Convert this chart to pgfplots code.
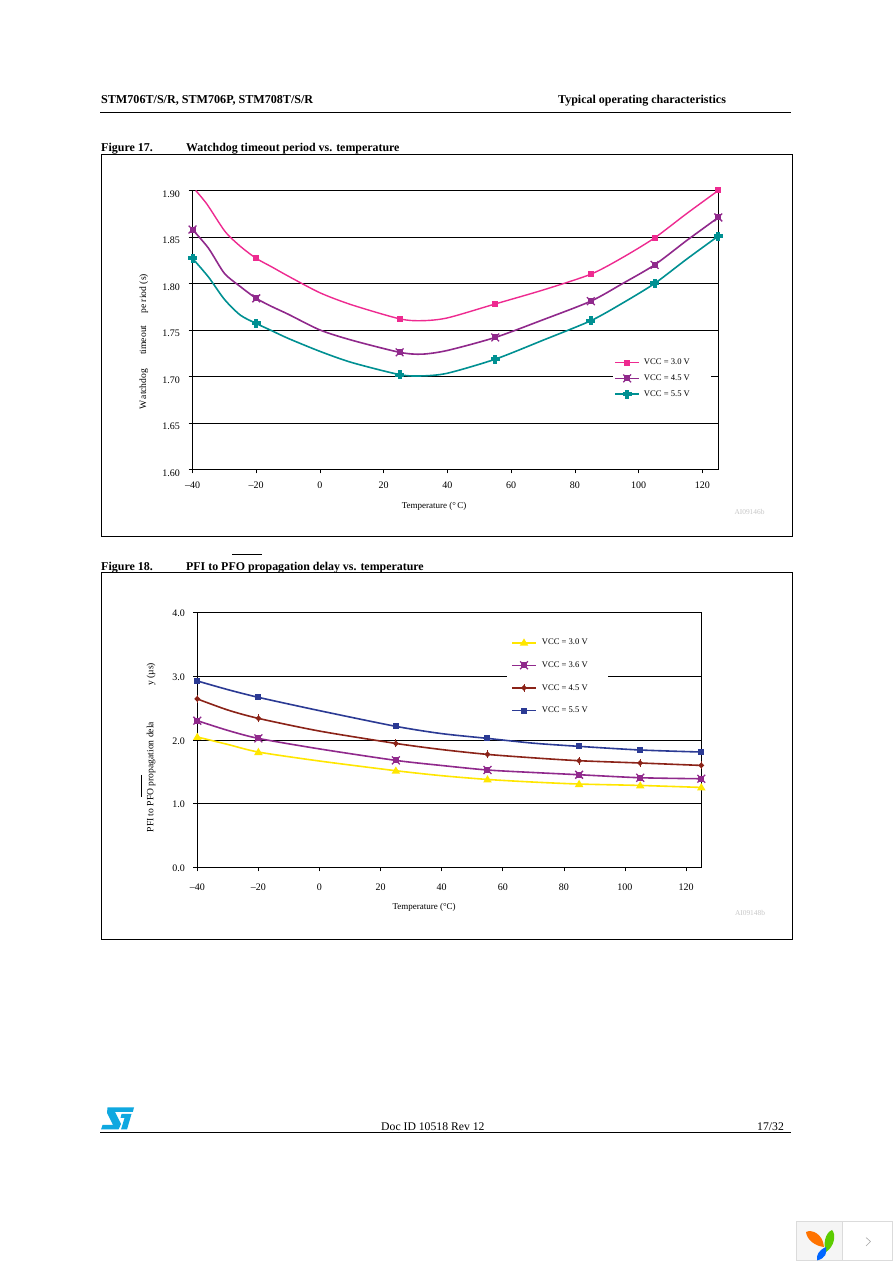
\documentclass[border=0pt]{standalone}
\usepackage{pgfplots}
\pgfplotsset{compat=1.18}
\usepackage{fontspec}
\setmainfont{Liberation Serif}
\newcommand{\fs}[1]{\fontsize{#1}{#1}\selectfont}
\definecolor{cpink}{HTML}{EE2A90}
\definecolor{cmag}{HTML}{90298C}
\definecolor{cteal}{HTML}{009092}
\definecolor{cyel}{HTML}{FFE600}
\definecolor{cbrown}{HTML}{8B2318}
\definecolor{cblue}{HTML}{2B3A94}
\definecolor{stblue}{HTML}{0FA8E0}
\pgfdeclareplotmark{psq}{\pgfpathrectangle{\pgfpoint{-3pt}{-3pt}}{\pgfpoint{6pt}{6pt}}\pgfusepathqfill}
\pgfdeclareplotmark{psx}{%
 \pgfpathrectangle{\pgfpoint{-3pt}{-3pt}}{\pgfpoint{6pt}{6pt}}\pgfusepathqfill
 \pgfsetlinewidth{1.3pt}%
 \pgfpathmoveto{\pgfpoint{-3.9pt}{-3.9pt}}\pgfpathlineto{\pgfpoint{3.9pt}{3.9pt}}%
 \pgfpathmoveto{\pgfpoint{-3.9pt}{3.9pt}}\pgfpathlineto{\pgfpoint{3.9pt}{-3.9pt}}\pgfusepathqstroke}
\pgfdeclareplotmark{pplus}{%
 \pgfpathrectangle{\pgfpoint{-4.5pt}{-2pt}}{\pgfpoint{9pt}{4pt}}\pgfusepathqfill
 \pgfpathrectangle{\pgfpoint{-2pt}{-4.5pt}}{\pgfpoint{4pt}{9pt}}\pgfusepathqfill}
\pgfdeclareplotmark{pdia}{%
 \pgfpathmoveto{\pgfpoint{-3pt}{0pt}}\pgfpathlineto{\pgfpoint{0pt}{3pt}}\pgfpathlineto{\pgfpoint{3pt}{0pt}}\pgfpathlineto{\pgfpoint{0pt}{-3pt}}\pgfpathclose\pgfusepathqfill
 \pgfsetlinewidth{0.8pt}\pgfpathmoveto{\pgfpoint{0pt}{-4pt}}\pgfpathlineto{\pgfpoint{0pt}{4pt}}\pgfusepathqstroke}
\pgfdeclareplotmark{ptri}{%
 \pgfpathmoveto{\pgfpoint{-4.3pt}{-3pt}}\pgfpathlineto{\pgfpoint{0pt}{4.3pt}}\pgfpathlineto{\pgfpoint{4.3pt}{-3pt}}\pgfpathclose\pgfusepathqfill}
\pgfplotsset{
 page axis/.style={
  scale only axis, clip=false, axis line style={black,line width=0.7pt},
  xmin=-40,xmax=125,
  xtick={-40,-20,0,20,40,60,80,100,120},
  xticklabels={--40,--20,0,20,40,60,80,100,120},
  xtick pos=bottom, ytick pos=left, tick align=outside,
  major tick length=4pt, tick style={black,line width=0.6pt},
  ymajorgrids, grid style={black,line width=0.7pt},
  ticklabel style={font=\fs{10}},
  label style={font=\fs{9.6}},
  legend cell align=left,
  legend image code/.code={\draw[##1,mark indices={2}] plot coordinates {(0pt,0pt) (12pt,0pt) (24pt,0pt)};},
 },
 ser/.style={color=#1,line width=1.6pt,smooth,tension=0.45,line join=round,mark options={solid}},
}
\begin{document}
\begin{tikzpicture}
\path[use as bounding box,fill=white] (0pt,0pt) rectangle (892pt,1263pt);
\begin{scope}[x=1pt,y=-1pt,yshift=1263pt]
 % header
 \node[anchor=base west,inner sep=0,font=\fs{12.1}\bfseries] at (101,104) {STM706T/S/R, STM706P, STM708T/S/R};
 \node[anchor=base west,inner sep=0,font=\fs{12}\bfseries] at (558,104) {Typical operating characteristics};
 \draw[black,line width=0.9pt] (100,112.3) -- (791,112.3);
 % figure titles and frames
 \node[anchor=base west,inner sep=0,font=\fs{12}\bfseries] at (101,151.5) {Figure 17.};
 \node[anchor=base west,inner sep=0,font=\fs{11.9}\bfseries] at (186,151.5) {Watchdog timeout period vs. temperature};
 \draw[black,line width=0.8pt] (101,154.4) rectangle (792.5,536.3);
 \node[anchor=base west,inner sep=0,font=\fs{12}\bfseries] at (101,570.5) {Figure 18.};
 \node[anchor=base west,inner sep=0,font=\fs{11.9}\bfseries] at (186,570.5) {PFI to PFO propagation delay vs. temperature};
 \draw[black,line width=0.7pt] (232,554.3) -- (262,554.3);
 \draw[black,line width=0.8pt] (101,572.4) rectangle (792.5,939.3);
 % watermarks
 \node[inner sep=0,font=\fs{7.4},text=black!22] at (749.5,512) {AI09146b};
 \node[inner sep=0,font=\fs{7.4},text=black!22] at (750,913) {AI09148b};
 % footer
 \node[anchor=base west,inner sep=0,font=\fs{11.7}] at (381,1130.5) {Doc ID 10518 Rev 12};
 \node[anchor=base west,inner sep=0,font=\fs{11.7}] at (757,1130.5) {17/32};
 \draw[black,line width=0.9pt] (100,1132.5) -- (791,1132.5);
 % logo
 \fill[stblue] (107.5,1107.5) -- (134,1107.5) -- (132.8,1112) -- (115,1112) -- (121,1124) -- (118.5,1129.5) -- (101,1129.5) -- (102.5,1125) -- (113,1125) -- (107,1113) -- cycle;
 \fill[stblue] (121.5,1114) -- (131.5,1114) -- (127,1129.5) -- (121,1129.5) -- (124.5,1118) -- (120.5,1118) -- cycle;
 % page widget
 \draw[black!14,fill=black!4,line width=0.7pt] (796.5,1221) rectangle (842.3,1260.7);
 \draw[black!14,fill=white,line width=0.7pt] (842.3,1221) rectangle (892,1260.7);
 \fill[orange!90!red] (806,1232) .. controls (812,1229) and (823,1234) .. (824,1247) .. controls (815,1246) and (807,1240) .. (806,1232) -- cycle;
 \fill[green!55!yellow!80!black] (832,1230) .. controls (836,1234) and (835,1246) .. (826,1252) .. controls (823,1244) and (825,1233) .. (832,1230) -- cycle;
 \fill[blue!60!cyan] (826,1247) .. controls (827,1253) and (826,1258) .. (817,1260.5) .. controls (816,1255) and (819,1250) .. (826,1247) -- cycle;
 \draw[black!35,line width=0.6pt] (866,1237.5) -- (870.5,1241.5) -- (866,1246);
\end{scope}

% ---- Figure 17
\begin{axis}[page axis, at={(192.5pt,793.5pt)}, anchor=south west,
 width=525.8pt, height=279pt,
 ymin=1.60,ymax=1.90,
 ytick={1.60,1.65,1.70,1.75,1.80,1.85,1.90},
 yticklabels={1.60,1.65,1.70,1.75,1.80,1.85,1.90},
 x tick label style={yshift=-4.5pt},
 y tick label style={yshift=-3.4pt,xshift=-5pt},
 xlabel={Temperature (\textdegree\,C)},
 xlabel style={at={(axis description cs:0.4595,-0.131)},anchor=center,font=\fs{9}},
 ylabel={W\,atchdog\hspace{14pt}timeout\hspace{12pt}pe riod (s)},
 ylabel style={at={(axis description cs:-0.0925,0.457)},anchor=center,rotate=0},
 legend style={at={(axis description cs:0.7997,0.408)},anchor=north west,draw=none,fill=white,
  font=\fs{8.6},inner sep=1.2pt,row sep=4.5pt},
]
\addplot[ser=cpink,line width=1.4pt,mark=psq,mark indices={5,10,13,15,17,19}] coordinates {
 (-39,1.900) (-35.4,1.885) (-29.8,1.856) (-25,1.840) (-20,1.827) (-15,1.8176) (-10,1.808) (0,1.790) (10,1.777) (25,1.762) (32,1.760) (40,1.763) (55,1.778) (70,1.793) (85,1.810) (95,1.828) (105,1.849) (115,1.875) (125,1.900)};
\addlegendentry{\hspace{2pt}VCC = 3.0 V\rule{18pt}{0pt}}
\addplot[ser=cmag,mark=psx,mark indices={1,5,10,13,15,17,19}] coordinates {
 (-40,1.858) (-35,1.838) (-30,1.811) (-25,1.7967) (-20,1.784) (-15,1.775) (-10,1.767) (0,1.750) (10,1.739) (25,1.726) (32,1.724) (40,1.728) (55,1.742) (70,1.761) (85,1.781) (95,1.800) (105,1.820) (115,1.846) (125,1.871)};
\addlegendentry{\hspace{2pt}VCC = 4.5 V}
\addplot[ser=cteal,mark=pplus,mark indices={1,5,10,13,15,17,19}] coordinates {
 (-40,1.827) (-35,1.807) (-30,1.783) (-25,1.766) (-20,1.757) (-15,1.749) (-10,1.741) (0,1.727) (10,1.715) (25,1.702) (32,1.7006) (40,1.7035) (55,1.7186) (70,1.739) (85,1.760) (95,1.779) (105,1.800) (115,1.826) (125,1.851)};
\addlegendentry{\hspace{2pt}VCC = 5.5 V}
\end{axis}

% ---- Figure 18
\begin{axis}[page axis, at={(197.3pt,395.5pt)}, anchor=south west,
 width=504pt, height=255pt,
 ymin=0,ymax=4,
 ytick={0,1,2,3,4},
 yticklabels={0.0,1.0,2.0,3.0,4.0},
 x tick label style={yshift=-8.5pt},
 y tick label style={yshift=-1pt,xshift=-5pt},
 xlabel={Temperature (\textdegree C)},
 xlabel style={at={(axis description cs:0.45,-0.155)},anchor=center,font=\fs{9}},
 ylabel={PFI to PFO propagation dela\hspace{36pt}y (µs)},
 ylabel style={at={(axis description cs:-0.0919,0.47)},anchor=center,rotate=0},
 legend style={at={(axis description cs:0.6145,0.92)},anchor=north west,draw=none,fill=white,
  font=\fs{8.6},inner sep=4pt,row sep=11.4pt},
]
\addplot[ser=cyel,mark=ptri,mark indices={1,3,5,7,9,10,11}] coordinates {
 (-40,2.047) (-30,1.93) (-20,1.811) (0,1.67) (25,1.518) (40,1.44) (55,1.381) (70,1.34) (85,1.309) (105,1.287) (125,1.256)};
\addlegendentry{\hspace{3pt}VCC = 3.0 V\rule{14pt}{0pt}}
\addplot[ser=cmag,mark=psx,mark indices={1,3,5,7,9,10,11}] coordinates {
 (-40,2.303) (-30,2.15) (-20,2.025) (0,1.86) (25,1.68) (40,1.60) (55,1.529) (70,1.49) (85,1.455) (105,1.408) (125,1.392)};
\addlegendentry{\hspace{3pt}VCC = 3.6 V}
\addplot[ser=cbrown,mark=pdia,mark indices={1,3,5,7,9,10,11}] coordinates {
 (-40,2.644) (-30,2.47) (-20,2.339) (0,2.14) (25,1.946) (40,1.85) (55,1.774) (70,1.72) (85,1.675) (105,1.639) (125,1.601)};
\addlegendentry{\hspace{3pt}VCC = 4.5 V}
\addplot[ser=cblue,mark=psq,mark indices={1,3,5,7,9,10,11}] coordinates {
 (-40,2.926) (-30,2.79) (-20,2.669) (0,2.46) (25,2.214) (40,2.10) (55,2.025) (70,1.95) (85,1.90) (105,1.843) (125,1.811)};
\addlegendentry{\hspace{3pt}VCC = 5.5 V}
\end{axis}
\begin{scope}[x=1pt,y=-1pt,yshift=1263pt]
 \draw[black,line width=0.7pt] (141,775) -- (141,797);
\end{scope}
\end{tikzpicture}
\end{document}
